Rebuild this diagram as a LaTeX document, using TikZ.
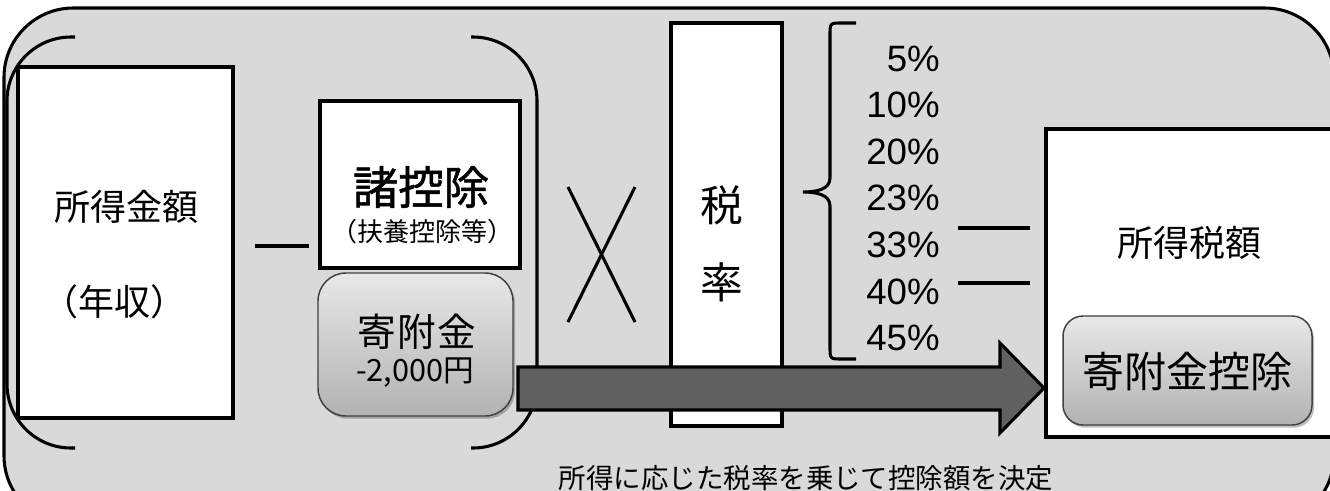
\documentclass[tikz,border=0pt]{standalone}
\usepackage{fontspec}
\setmainfont{Noto Sans CJK JP}
\newfontfamily\jpmed{Noto Sans CJK JP}[FakeBold=1.2]
\newfontfamily\arialf{Liberation Sans}
\usetikzlibrary{fit,shadows,calc}
\definecolor{bggray}{HTML}{D9D9D9}
\definecolor{arrowgray}{HTML}{606060}
\definecolor{gradtop}{HTML}{E8E8E8}
\definecolor{gradbot}{HTML}{B2B2B2}
\tikzset{
  lw/.style={line width=2.3pt},
  whitebox/.style={draw=black, fill=white, line width=2.6pt, inner sep=0pt},
  gradbox/.style={draw=black!75, line width=1.1pt, top color=gradtop, bottom color=gradbot, inner sep=0pt,
     drop shadow={shadow xshift=1.5pt, shadow yshift=-2pt, opacity=0.25, fill=black}},
  txt/.style={inner sep=0pt, font={\fontsize{#1}{#1}\selectfont}},
  pct/.style={inner sep=0pt, anchor=base east, font={\arialf\fontsize{27.5}{27.5}\selectfont}},
}
\begin{document}
\begin{tikzpicture}[x=0.75pt, y=-0.75pt]
\useasboundingbox (0,0) rectangle (1330,490);
\clip (0,0) rectangle (1330,490);
% outer background
\draw[lw, fill=bggray, rounded corners=52pt] (4,8) rectangle (1334,525);
% parentheses
\draw[lw, rounded corners=48pt] (75,37) -- (7,37) -- (7,448) -- (75,448);
\draw[lw, rounded corners=48pt] (471,37) -- (537,37) -- (537,448) -- (471,448);
% income box
\node[whitebox, fit={(18,67) (233,418)}] (inc) {};
\node[txt=27pt] (incA) at (126,207) {所得金額};
\node[txt=27pt] (incB) at (114,302) {（年収）};
% minus
\draw[lw] (255,246) -- (309,246);
% deductions box
\node[whitebox, fit={(320,101) (520,268)}] (ded) {};
\node[txt=34pt, font={\jpmed\fontsize{34}{34}\selectfont}] (dedA) at (421,187) {諸控除};
\node[txt=19.5pt] (dedB) at (422,232) {（扶養控除等）};
% donation box
\node[gradbox, rounded corners=21pt, fit={(318,273) (513,416)}] (don) {};
\node[txt=29pt] (donA) at (417,332) {寄\kern1pt 附\kern1pt 金};
\node[txt=23pt] (donB) at (415,373) {-2,000円};
% multiply
\draw[lw] (568,187) -- (635,322);
\draw[lw] (635,187) -- (568,322);
% tax rate box
\node[whitebox, fit={(671,23) (782,426)}] (rate) {};
\node[txt=32pt] (rateA) at (722,205) {税};
\node[txt=32pt] (rateB) at (722,282) {率};
% brace
\draw[lw] (856,23) -- (842,23) .. controls (830,23) .. (830,35) -- (830,178)
  .. controls (830,190) and (815,192) .. (803,192)
  .. controls (815,192) and (830,194) .. (830,206) -- (830,347)
  .. controls (830,359) .. (842,359) -- (856,359);
% percentages
\node[pct] (p1) at (940,71) {5\%};
\node[pct] (p2) at (940,117) {10\%};
\node[pct] (p3) at (940,164) {20\%};
\node[pct] (p4) at (940,210) {23\%};
\node[pct] (p5) at (940,257) {33\%};
\node[pct] (p6) at (940,304) {40\%};
\node[pct] (p7) at (940,350) {45\%};
% equals
\draw[lw] (958,228) -- (1030,228);
\draw[lw] (958,283) -- (1030,283);
% income tax box
\node[whitebox, fit={(1046,129) (1360,437)}] (tax) {};
\node[txt=27pt] (taxA) at (1189,243) {所得税額};
% big arrow
\coordinate (aS) at (518,388);
\coordinate (aT) at (1044,388);
\draw[lw, fill=arrowgray, line join=miter]
  ($(aS)+(0,-21)$) -- (1000,367) -- (1000,343) -- (aT) -- (1000,433) -- (1000,410) -- ($(aS)+(0,22)$) -- cycle;
% donation deduction box
\node[gradbox, rounded corners=15pt, fit={(1063,316) (1312,425)}] (dd) {};
\node[txt=31.5pt] (ddA) at (1187,372) {寄附金控除};
% bottom caption
\node[txt=20.6pt] (cap) at (806,478) {所得に応じた税率を乗じて控除額を決定};
\end{tikzpicture}
\end{document}
